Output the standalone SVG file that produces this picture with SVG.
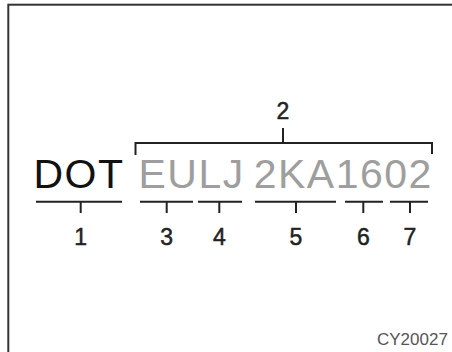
<svg xmlns="http://www.w3.org/2000/svg" width="452" height="352" viewBox="0 0 452 352">
<style>
.big{font-family:"Liberation Sans",Arial,sans-serif;font-size:41px;letter-spacing:1.5px}
.num{font-family:"Liberation Sans",Arial,sans-serif;font-size:23px;fill:#222;stroke:#222;stroke-width:0.5;text-anchor:middle}
.ln{stroke:#222;stroke-width:2;fill:none}
</style>
<rect x="0" y="0" width="452" height="352" fill="#fff"/>
<rect id="frame" x="8.3" y="4.7" width="460" height="360" fill="none" stroke="#333" stroke-width="2"/>
<g id="code">
<text class="big" x="33.5" y="187.5" fill="#111">DOT</text>
<text class="big" x="138.5" y="187.5" fill="#9e9e9e">EULJ</text>
<text class="big" x="253.7" y="187.5" fill="#9e9e9e">2KA1602</text>
</g>
<g id="connectors">
<path class="ln" d="M135.5 155 V143 H432 V154 M283 128 V143"/>
<path class="ln" d="M36 201.7 H122 M80.7 201.7 V213"/>
<path class="ln" d="M140 201.7 H193 M166.7 201.7 V213"/>
<path class="ln" d="M198 201.7 H242 M219.3 201.7 V213"/>
<path class="ln" d="M255 201.7 H336 M296 201.7 V213"/>
<path class="ln" d="M345 201.7 H383 M363.3 201.7 V213"/>
<path class="ln" d="M390 201.7 H428 M410 201.7 V213"/>
</g>
<g id="label-2"><text class="num" x="283" y="119">2</text></g>
<g id="label-1"><text class="num" x="80.7" y="244.5">1</text></g>
<g id="label-3"><text class="num" x="166.7" y="244.5">3</text></g>
<g id="label-4"><text class="num" x="219.3" y="244.5">4</text></g>
<g id="label-5"><text class="num" x="296" y="244.5">5</text></g>
<g id="label-6"><text class="num" x="363.3" y="244.5">6</text></g>
<g id="label-7"><text class="num" x="410" y="244.5">7</text></g>
<g id="figure-code"><text x="377" y="345" font-family="Liberation Sans,Arial,sans-serif" font-size="17" fill="#555">CY20027</text></g>
</svg>
